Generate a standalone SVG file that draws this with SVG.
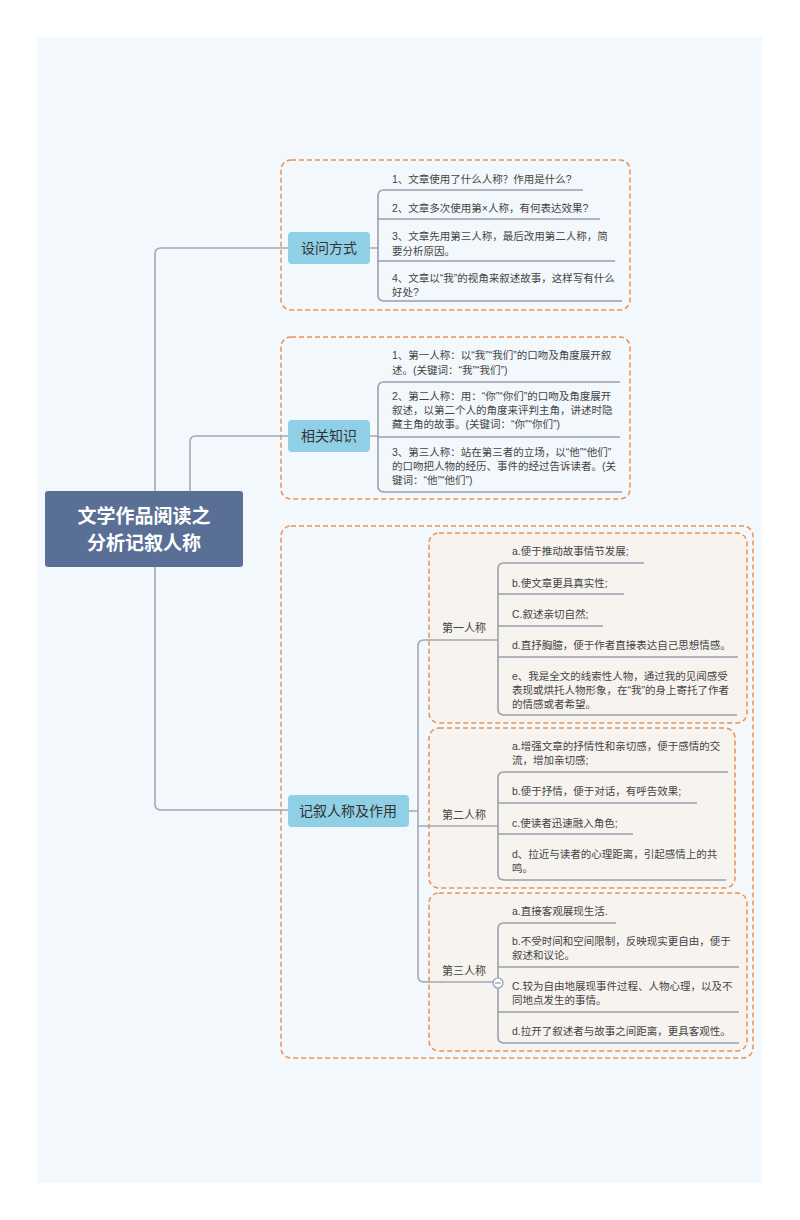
<svg xmlns="http://www.w3.org/2000/svg" width="800" height="1220" viewBox="0 0 800 1220">
<style>
text{font-family:"Liberation Sans","Noto Sans CJK SC",sans-serif;fill:#444;font-size:10.5px}
.c{fill:none;stroke:#a3a8b3;stroke-width:1.6}
.u{fill:none;stroke:#9aa0ad;stroke-width:1.6}
.box{fill:none;stroke:#ef8f4e;stroke-width:1.5;stroke-dasharray:5 3}
.sub{fill:#f7f3ef;stroke:#ef8f4e;stroke-width:1.5;stroke-dasharray:5 3}
.lab{fill:#8fd0e6}
.lt{font-size:14px;fill:#333}
.st{font-size:11px;fill:#444}
</style>
<rect width="800" height="1220" fill="#fff"/>
<rect x="37" y="37" width="725" height="1146" fill="#f3f8fc"/>
<g id="frames">
<rect class="box" x="281" y="160" width="349" height="150" rx="10"/>
<rect class="box" x="281" y="337" width="349" height="162" rx="10"/>
<rect class="box" x="281" y="526" width="472" height="532" rx="10"/>
<rect class="sub" x="429" y="533" width="318" height="190" rx="10"/>
<rect class="sub" x="429" y="728" width="306" height="160" rx="10"/>
<rect class="sub" x="429" y="893" width="318" height="158" rx="10"/>
</g>
<g id="connectors">
<path class="c" d="M155 491 V254 Q155 248 161 248 H288"/>
<path class="c" d="M190 491 V442 Q190 436 196 436 H288"/>
<path class="c" d="M155 567 V804 Q155 810 161 810 H288"/>
<path class="c" d="M370 248 H378 M370 436 H378 M409 811 H418"/>
<path class="c" d="M418 646 Q418 640 424 640 H498 M418 646 V976 Q418 982 424 982 H498 M418 826 H498"/>
<path class="u" d="M583 190 H384 Q378 190 378 196 V295 Q378 301 384 301 H622 M378 219 H600 M378 261 H615"/>
<path class="u" d="M620 382 H384 Q378 382 378 388 V486 Q378 492 384 492 H622 M378 437 H620"/>
<path class="u" d="M644 563 H504 Q498 563 498 569 V709 Q498 715 504 715 H737 M498 594 H624 M498 626 H603 M498 657 H738"/>
<path class="u" d="M728 772 H504 Q498 772 498 778 V874 Q498 880 504 880 H726 M498 803 H697 M498 834 H633"/>
<path class="u" d="M616 923 H504 Q498 923 498 929 V1037 Q498 1043 504 1043 H739 M498 967 H739 M498 1012 H739"/>
<circle cx="498" cy="983" r="5" fill="#fff" stroke="#8a9bb8" stroke-width="1.2"/>
<path d="M495 983 H501" stroke="#8a9bb8" stroke-width="1.2"/>
</g>
<g id="root">
<rect x="45" y="491" width="198" height="76" rx="3" fill="#5a6f96"/>
<text x="144" y="523" text-anchor="middle" style="fill:#fff;font-size:19px;font-weight:bold">文学作品阅读之</text>
<text x="144" y="550" text-anchor="middle" style="fill:#fff;font-size:19px;font-weight:bold">分析记叙人称</text>
</g>
<g id="n1">
<rect class="lab" x="288" y="232" width="82" height="32" rx="4"/>
<text class="lt" x="329" y="253" text-anchor="middle">设问方式</text>
<text x="392" y="183">1、文章使用了什么人称？作用是什么?</text>
<text x="392" y="212">2、文章多次使用第×人称，有何表达效果?</text>
<text x="392" y="240">3、文章先用第三人称，最后改用第二人称，简</text>
<text x="392" y="255">要分析原因。</text>
<text x="392" y="282">4、文章以“我”的视角来叙述故事，这样写有什么</text>
<text x="392" y="296">好处?</text>
</g>
<g id="n2">
<rect class="lab" x="288" y="420" width="82" height="32" rx="4"/>
<text class="lt" x="329" y="441" text-anchor="middle">相关知识</text>
<text x="392" y="359">1、第一人称：以“我”“我们”的口吻及角度展开叙</text>
<text x="392" y="374">述。(关键词：“我”“我们”)</text>
<text x="392" y="400">2、第二人称：用：“你”“你们”的口吻及角度展开</text>
<text x="392" y="414">叙述，以第二个人的角度来评判主角，讲述时隐</text>
<text x="392" y="428">藏主角的故事。(关键词：“你”“你们”)</text>
<text x="392" y="456">3、第三人称：站在第三者的立场，以“他”“他们”</text>
<text x="392" y="470">的口吻把人物的经历、事件的经过告诉读者。(关</text>
<text x="392" y="484">键词：“他”“他们”)</text>
</g>
<g id="n3">
<rect class="lab" x="288" y="795" width="121" height="32" rx="4"/>
<text class="lt" x="348" y="816" text-anchor="middle">记叙人称及作用</text>
</g>
<g id="n31">
<text class="st" x="442" y="632">第一人称</text>
<text x="512" y="555">a.便于推动故事情节发展;</text>
<text x="512" y="587">b.使文章更具真实性;</text>
<text x="512" y="618">C.叙述亲切自然;</text>
<text x="512" y="649">d.直抒胸臆，便于作者直接表达自己思想情感。</text>
<text x="512" y="680">e、我是全文的线索性人物，通过我的见闻感受</text>
<text x="512" y="694">表现或烘托人物形象，在“我”的身上寄托了作者</text>
<text x="512" y="708">的情感或者希望。</text>
</g>
<g id="n32">
<text class="st" x="442" y="819">第二人称</text>
<text x="512" y="750">a.增强文章的抒情性和亲切感，便于感情的交</text>
<text x="512" y="764">流，增加亲切感;</text>
<text x="512" y="795">b.便于抒情，便于对话，有呼告效果;</text>
<text x="512" y="827">c.使读者迅速融入角色;</text>
<text x="512" y="858">d、拉近与读者的心理距离，引起感情上的共</text>
<text x="512" y="872">鸣。</text>
</g>
<g id="n33">
<text class="st" x="442" y="975">第三人称</text>
<text x="512" y="915">a.直接客观展现生活.</text>
<text x="512" y="945">b.不受时间和空间限制，反映现实更自由，便于</text>
<text x="512" y="959">叙述和议论。</text>
<text x="512" y="990">C.较为自由地展现事件过程、人物心理，以及不</text>
<text x="512" y="1004">同地点发生的事情。</text>
<text x="512" y="1035">d.拉开了叙述者与故事之间距离，更具客观性。</text>
</g>
</svg>
